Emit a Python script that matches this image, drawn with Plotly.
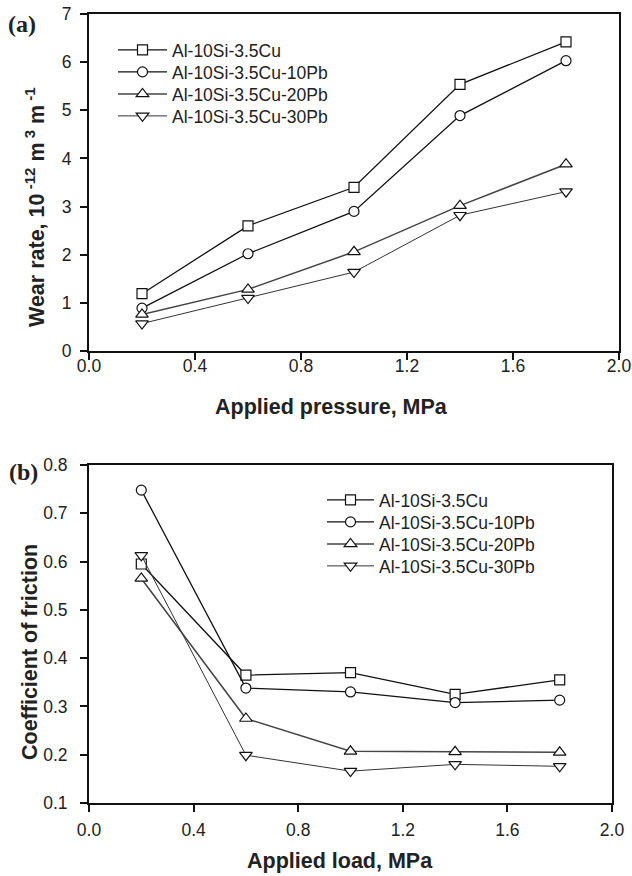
import plotly.graph_objects as go

# ---------------- data ----------------
series_names = ["Al-10Si-3.5Cu", "Al-10Si-3.5Cu-10Pb", "Al-10Si-3.5Cu-20Pb", "Al-10Si-3.5Cu-30Pb"]

pressure = [0.2, 0.6, 1.0, 1.4, 1.8]
wear_base = [1.19, 2.60, 3.40, 5.54, 6.42]
wear_10pb = [0.89, 2.02, 2.90, 4.89, 6.03]
wear_20pb = [0.76, 1.28, 2.06, 3.02, 3.88]
wear_30pb = [0.57, 1.10, 1.64, 2.82, 3.31]

load = [0.2, 0.6, 1.0, 1.4, 1.8]
cof_base = [0.595, 0.365, 0.370, 0.325, 0.355]
cof_10pb = [0.748, 0.338, 0.330, 0.308, 0.313]
cof_20pb = [0.565, 0.275, 0.207, 0.206, 0.205]
cof_30pb = [0.613, 0.199, 0.166, 0.180, 0.176]

x_ticks = [0.0, 0.4, 0.8, 1.2, 1.6, 2.0]
wear_ticks = [0, 1, 2, 3, 4, 5, 6, 7]
cof_ticks = [0.1, 0.2, 0.3, 0.4, 0.5, 0.6, 0.7, 0.8]

# ---------------- geometry (page pixels; body margin removed) ----------------
W, H = 632, 876

def px(x):
    return x / W

def py(y):
    return 1 - y / H

symbols = ["square", "circle", "triangle-up", "triangle-down"]
msizes = [10, 10, 11, 11]
lcolors = ["#111111", "#111111", "#444444", "#333333"]
lwidths = [1.3, 1.3, 1.5, 1.0]

top_leg_rows = [50, 72, 94, 116]
bot_leg_rows = [500, 522, 544, 566]

fig = go.Figure()

wear_sets = [wear_base, wear_10pb, wear_20pb, wear_30pb]
cof_sets = [cof_base, cof_10pb, cof_20pb, cof_30pb]

leg_font = dict(family="Liberation Sans, Arial", size=17.5, color="#222222")
legends = {}
for i, name in enumerate(series_names):
    lk = "legend" if i == 0 else f"legend{i + 1}"
    fig.add_trace(go.Scatter(
        x=pressure, y=wear_sets[i], name=name, mode="lines+markers",
        line=dict(color=lcolors[i], width=lwidths[i]),
        marker=dict(symbol=symbols[i], size=msizes[i], color="white",
                    line=dict(color="#111111", width=1.2)),
        xaxis="x", yaxis="y", legend=lk,
    ))
    legends[lk] = dict(x=px(113), y=py(top_leg_rows[i]), xanchor="left", yanchor="middle",
                       font=leg_font, bgcolor="rgba(0,0,0,0)", itemwidth=49, borderwidth=0)
for i, name in enumerate(series_names):
    lk = f"legend{i + 5}"
    fig.add_trace(go.Scatter(
        x=load, y=cof_sets[i], name=name, mode="lines+markers",
        line=dict(color=lcolors[i], width=lwidths[i]),
        marker=dict(symbol=symbols[i], size=msizes[i], color="white",
                    line=dict(color="#111111", width=1.2)),
        xaxis="x2", yaxis="y2", legend=lk,
    ))
    legends[lk] = dict(x=px(322), y=py(bot_leg_rows[i]), xanchor="left", yanchor="middle",
                       font=leg_font, bgcolor="rgba(0,0,0,0)", itemwidth=47, borderwidth=0)

tickfont = dict(family="Liberation Sans, Arial", size=17.5, color="#222222")
axis_common = dict(
    showline=True, linecolor="#111111", linewidth=2, mirror=True,
    ticks="outside", ticklen=7, tickwidth=1.5, tickcolor="#111111",
    showgrid=False, zeroline=False, tickfont=tickfont, automargin=False,
    ticklabeloverflow="allow",
)

fig.update_layout(
    template="none",
    width=W, height=H,
    margin=dict(l=0, r=0, t=0, b=0, pad=0, autoexpand=False),
    paper_bgcolor="white", plot_bgcolor="white",
    xaxis=dict(domain=[px(89), px(619)], range=[0, 2.0], tickvals=x_ticks,
               ticktext=[f"{v:.1f}" for v in x_ticks], anchor="y", ticklabelstandoff=-9, **axis_common),
    yaxis=dict(domain=[py(351), py(14)], range=[0, 7], tickvals=wear_ticks,
               anchor="x", ticklabelstandoff=5, **axis_common),
    xaxis2=dict(domain=[px(89), px(612)], range=[0, 2.0], tickvals=x_ticks,
                ticktext=[f"{v:.1f}" for v in x_ticks], anchor="y2", ticklabelstandoff=3, **axis_common),
    yaxis2=dict(domain=[py(803), py(465)], range=[0.1, 0.8], tickvals=cof_ticks,
                ticktext=[f"{v:.1f}" for v in cof_ticks], anchor="x2", ticklabelstandoff=9, **axis_common),
    showlegend=True,
    **legends,
)

title_font = dict(family="Liberation Sans, Arial", size=21.5, color="#222222")
label_font = dict(family="Liberation Serif, Times New Roman", size=24, color="#222222")

annotations = [
    dict(text="<b>Applied pressure, MPa</b>", x=px(331), y=py(407), font=title_font),
    dict(text="<b>Applied load, MPa</b>", x=px(340), y=py(861), font=title_font),
    dict(text="<b>Wear rate, 10<sup> -12</sup> m<sup> 3</sup> m<sup> -1</sup></b>", x=px(51), y=py(207),
         textangle=-90, font=title_font, xanchor="right"),
    dict(text="<b>Coefficient of friction</b>", x=px(30), y=py(652), textangle=-90, font=title_font),
    dict(text="<b>(a)</b>", x=px(22), y=py(24), font=label_font),
    dict(text="<b>(b)</b>", x=px(23), y=py(472), font=label_font),
]
for a in annotations:
    a.setdefault("xanchor", "center")
    fig.add_annotation(xref="paper", yref="paper", showarrow=False,
                       yanchor="middle", **a)

fig.write_html(
    "out.html",
    config=dict(displayModeBar=False),
    post_script="document.body.style.margin='0';document.body.style.overflow='hidden';",
)
